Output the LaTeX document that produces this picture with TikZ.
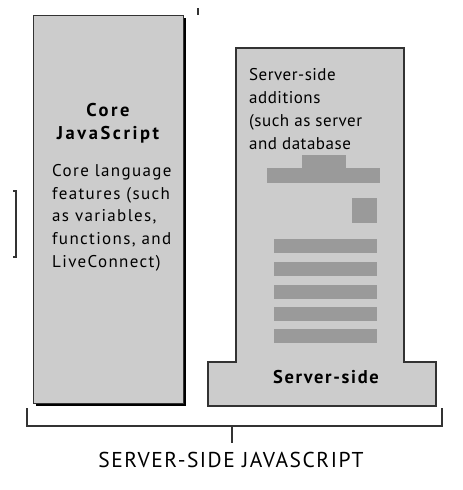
\documentclass[tikz,border=0pt]{standalone}
\usepackage{fontspec}
\setmainfont{PT Sans}
\newfontfamily\headfont{PT Sans}[LetterSpace=14]
\newfontfamily\leftfont{PT Sans}[LetterSpace=8]
\newfontfamily\rightfont{PT Sans}[LetterSpace=3]
\newfontfamily\titlefont{PT Sans}[LetterSpace=7]
\newfontfamily\ssfont{PT Sans}[LetterSpace=9]
\definecolor{boxgray}{HTML}{CCCCCC}
\definecolor{bargray}{HTML}{9A9A9A}
\definecolor{edge}{HTML}{333333}
\tikzset{
  px/.style={x=1pt,y=-1pt},
  outline/.style={draw=edge,line width=1.2pt},
  lbody/.style={anchor=base west,inner sep=0pt,font=\leftfont\fontsize{17}{20}\selectfont},
  rbody/.style={anchor=base west,inner sep=0pt,font=\rightfont\fontsize{17}{20}\selectfont},
  head/.style={anchor=base,inner sep=0pt,font=\headfont\bfseries\fontsize{18.5}{20}\selectfont},
  brk/.style={draw=edge,line width=1.2pt},
}
\begin{document}
\begin{tikzpicture}[px]
\useasboundingbox (0,0) rectangle (463,490);
% left box with shadow
\fill[black] (36,18) rectangle (186,406);
\filldraw[fill=boxgray,draw=edge,line width=1pt] (33,15) rectangle (183,403);
% heading left
\node[head] (h1) at (108,116) {Core};
\node[head] (h2) at (108,139) {JavaScript};
\node[lbody] (l1) at (52,176) {Core language};
\node[lbody] (l2) at (52,199) {features (such};
\node[lbody] (l3) at (52,221) {as variables,};
\node[lbody] (l4) at (52,244) {functions, and};
\node[lbody] (l5) at (52,267) {LiveConnect)};
% right shape
\filldraw[fill=boxgray,outline] (236,48) -- (404,48) -- (404,362) -- (436,362) -- (436,406) -- (208,406) -- (208,362) -- (236,362) -- cycle;
\node[rbody] (r1) at (249,80) {Server-side};
\node[rbody] (r2) at (249,103) {additions};
\node[rbody] (r3) at (249,126) {(such as server};
\node[rbody] (r4) at (249,149) {and database};
% bars
\fill[bargray] (302,155) rectangle (346,168);
\fill[bargray] (267,168) rectangle (380,183);
\fill[bargray] (352,198) rectangle (377,223);
\foreach \y in {239,262,285,307,329}
  \fill[bargray] (274,\y) rectangle (377,\y+14);
\node[anchor=base,inner sep=0pt,font=\ssfont\bfseries\fontsize{18.5}{20}\selectfont] (ss) at (326,383) {Server-side};
% small marks
\draw[brk] (198,8) -- (198,15);
\draw[brk] (13,191) -- (16,191) -- (16,257) -- (13,257);
% bottom bracket
\coordinate (bl) at (27,408);
\coordinate (br) at (442,408);
\coordinate (bm) at (232,426);
\draw[brk] (bl) -- (27,426) -- (442,426) -- (br);
\draw[brk] (bm) -- (232,443);
\node[anchor=base,inner sep=0pt,font=\titlefont\fontsize{21.5}{24}\selectfont] (title) at (231,467) {SERVER-SIDE JAVASCRIPT};
\end{tikzpicture}
\end{document}
